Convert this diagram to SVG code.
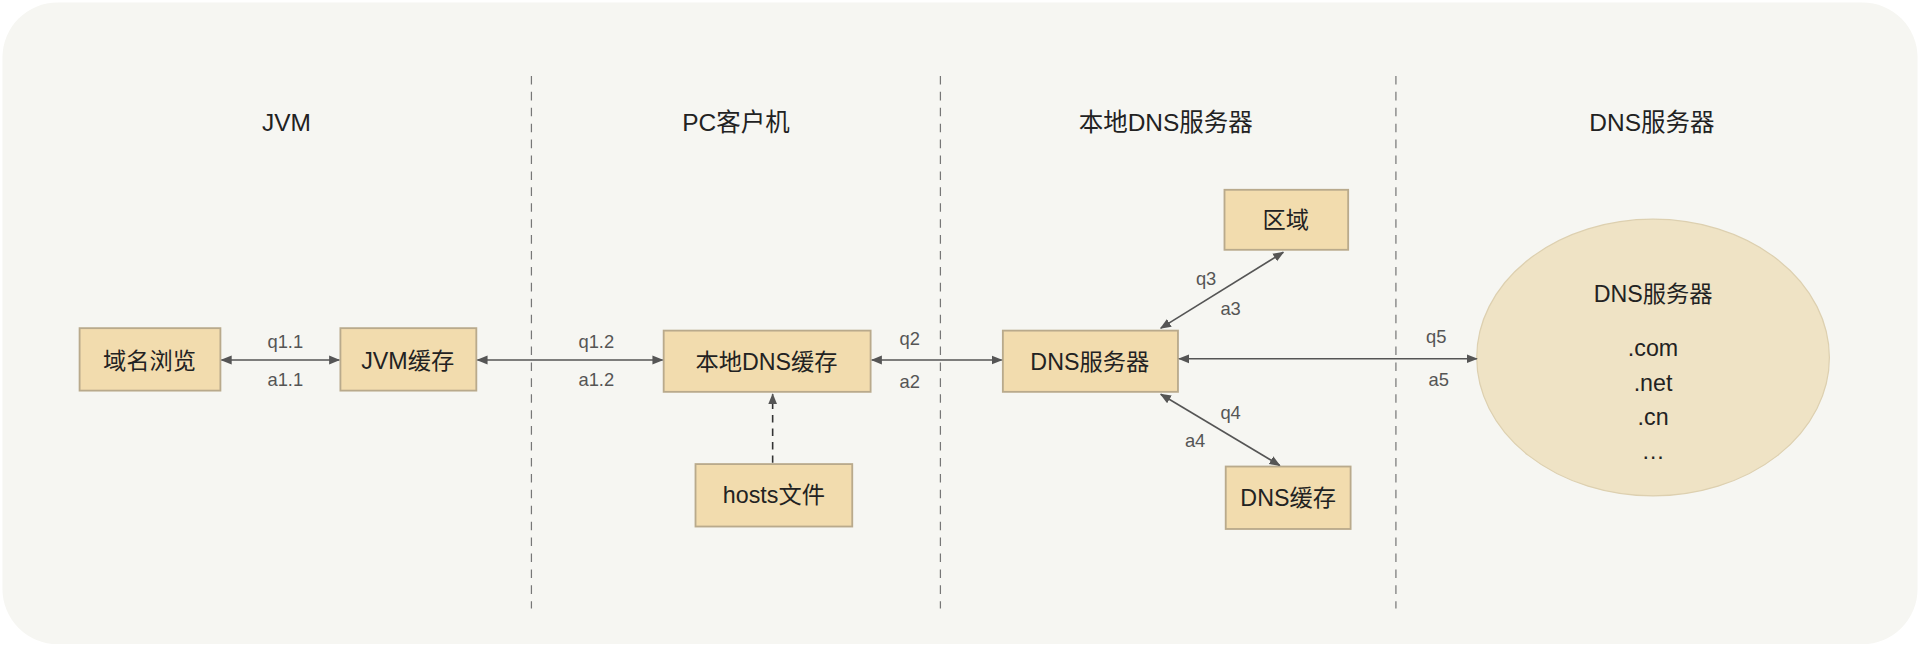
<svg xmlns="http://www.w3.org/2000/svg" width="1920" height="647" viewBox="0 0 1920 647">
<defs>
<marker id="ah" viewBox="0 0 10 10" refX="9" refY="5" markerWidth="7" markerHeight="7" orient="auto-start-reverse"><path d="M0,1 L10,5 L0,9 Z" fill="#555"/></marker>
<style>
.box{fill:#f2dcae;stroke:#b9aa8c;stroke-width:1.5}
.t{font-family:"Liberation Sans","Noto Sans CJK SC",sans-serif;fill:#222;text-anchor:middle}
.n{font-size:19px}
.h{font-size:20px}
.l{font-size:15px;fill:#555}
.c{stroke:#555;stroke-width:1.3;fill:none;marker-start:url(#ah);marker-end:url(#ah)}
.sep{stroke:#777;stroke-width:1;stroke-dasharray:7 6}
</style>
</defs>
<rect x="0" y="0" width="1920" height="647" fill="#ffffff"/>
<g transform="scale(1.22449)">
<rect x="2" y="2" width="1564" height="524" rx="45" fill="#f6f6f2"/>
<g id="separators">
<line class="sep" x1="434" y1="62" x2="434" y2="497"/>
<line class="sep" x1="768" y1="62" x2="768" y2="497"/>
<line class="sep" x1="1140" y1="62" x2="1140" y2="497"/>
</g>
<g id="headers">
<text class="t h" x="234" y="107">JVM</text>
<text class="t h" x="601" y="107">PC客户机</text>
<text class="t h" x="952" y="107">本地DNS服务器</text>
<text class="t h" x="1349" y="107">DNS服务器</text>
</g>
<g id="n1"><rect class="box" x="65" y="268" width="115" height="51"/><text class="t n" x="122" y="301">域名浏览</text></g>
<g id="n2"><rect class="box" x="278" y="268" width="111" height="51"/><text class="t n" x="333" y="301">JVM缓存</text></g>
<g id="n3"><rect class="box" x="542" y="270" width="169" height="50"/><text class="t n" x="626" y="302">本地DNS缓存</text></g>
<g id="n4"><rect class="box" x="819" y="270" width="143" height="50"/><text class="t n" x="890" y="302">DNS服务器</text></g>
<g id="n5"><rect class="box" x="1000" y="155" width="101" height="49"/><text class="t n" x="1050" y="186">区域</text></g>
<g id="n6"><rect class="box" x="1001" y="381" width="102" height="51"/><text class="t n" x="1052" y="413">DNS缓存</text></g>
<g id="n7"><rect class="box" x="568" y="379" width="128" height="51"/><text class="t n" x="632" y="411">hosts文件</text></g>
<g id="n8"><ellipse cx="1350" cy="292" rx="144" ry="113" fill="#efe3c5" stroke="#ddd0b0" stroke-width="1"/>
<text class="t n" x="1350" y="247">DNS服务器</text>
<text class="t n" x="1350" y="291">.com</text>
<text class="t n" x="1350" y="319">.net</text>
<text class="t n" x="1350" y="347">.cn</text>
<text class="t n" x="1350" y="375">…</text></g>
<g id="connectors">
<line class="c" x1="181" y1="294" x2="277" y2="294"/>
<line class="c" x1="390" y1="294" x2="541" y2="294"/>
<line class="c" x1="712" y1="294" x2="818" y2="294"/>
<line class="c" x1="963" y1="293" x2="1206" y2="293"/>
<line class="c" x1="948" y1="268" x2="1048" y2="206"/>
<line class="c" x1="948" y1="322" x2="1045" y2="380"/>
<line x1="631" y1="378" x2="631" y2="322" stroke="#333" stroke-width="1.3" stroke-dasharray="6 5" marker-end="url(#ah)"/>
<text class="t l" x="233" y="284">q1.1</text><text class="t l" x="233" y="315">a1.1</text>
<text class="t l" x="487" y="284">q1.2</text><text class="t l" x="487" y="315">a1.2</text>
<text class="t l" x="743" y="282">q2</text><text class="t l" x="743" y="317">a2</text>
<text class="t l" x="985" y="233">q3</text><text class="t l" x="1005" y="257">a3</text>
<text class="t l" x="1005" y="342">q4</text><text class="t l" x="976" y="365">a4</text>
<text class="t l" x="1173" y="280">q5</text><text class="t l" x="1175" y="315">a5</text>
</g>
</g>
</svg>
